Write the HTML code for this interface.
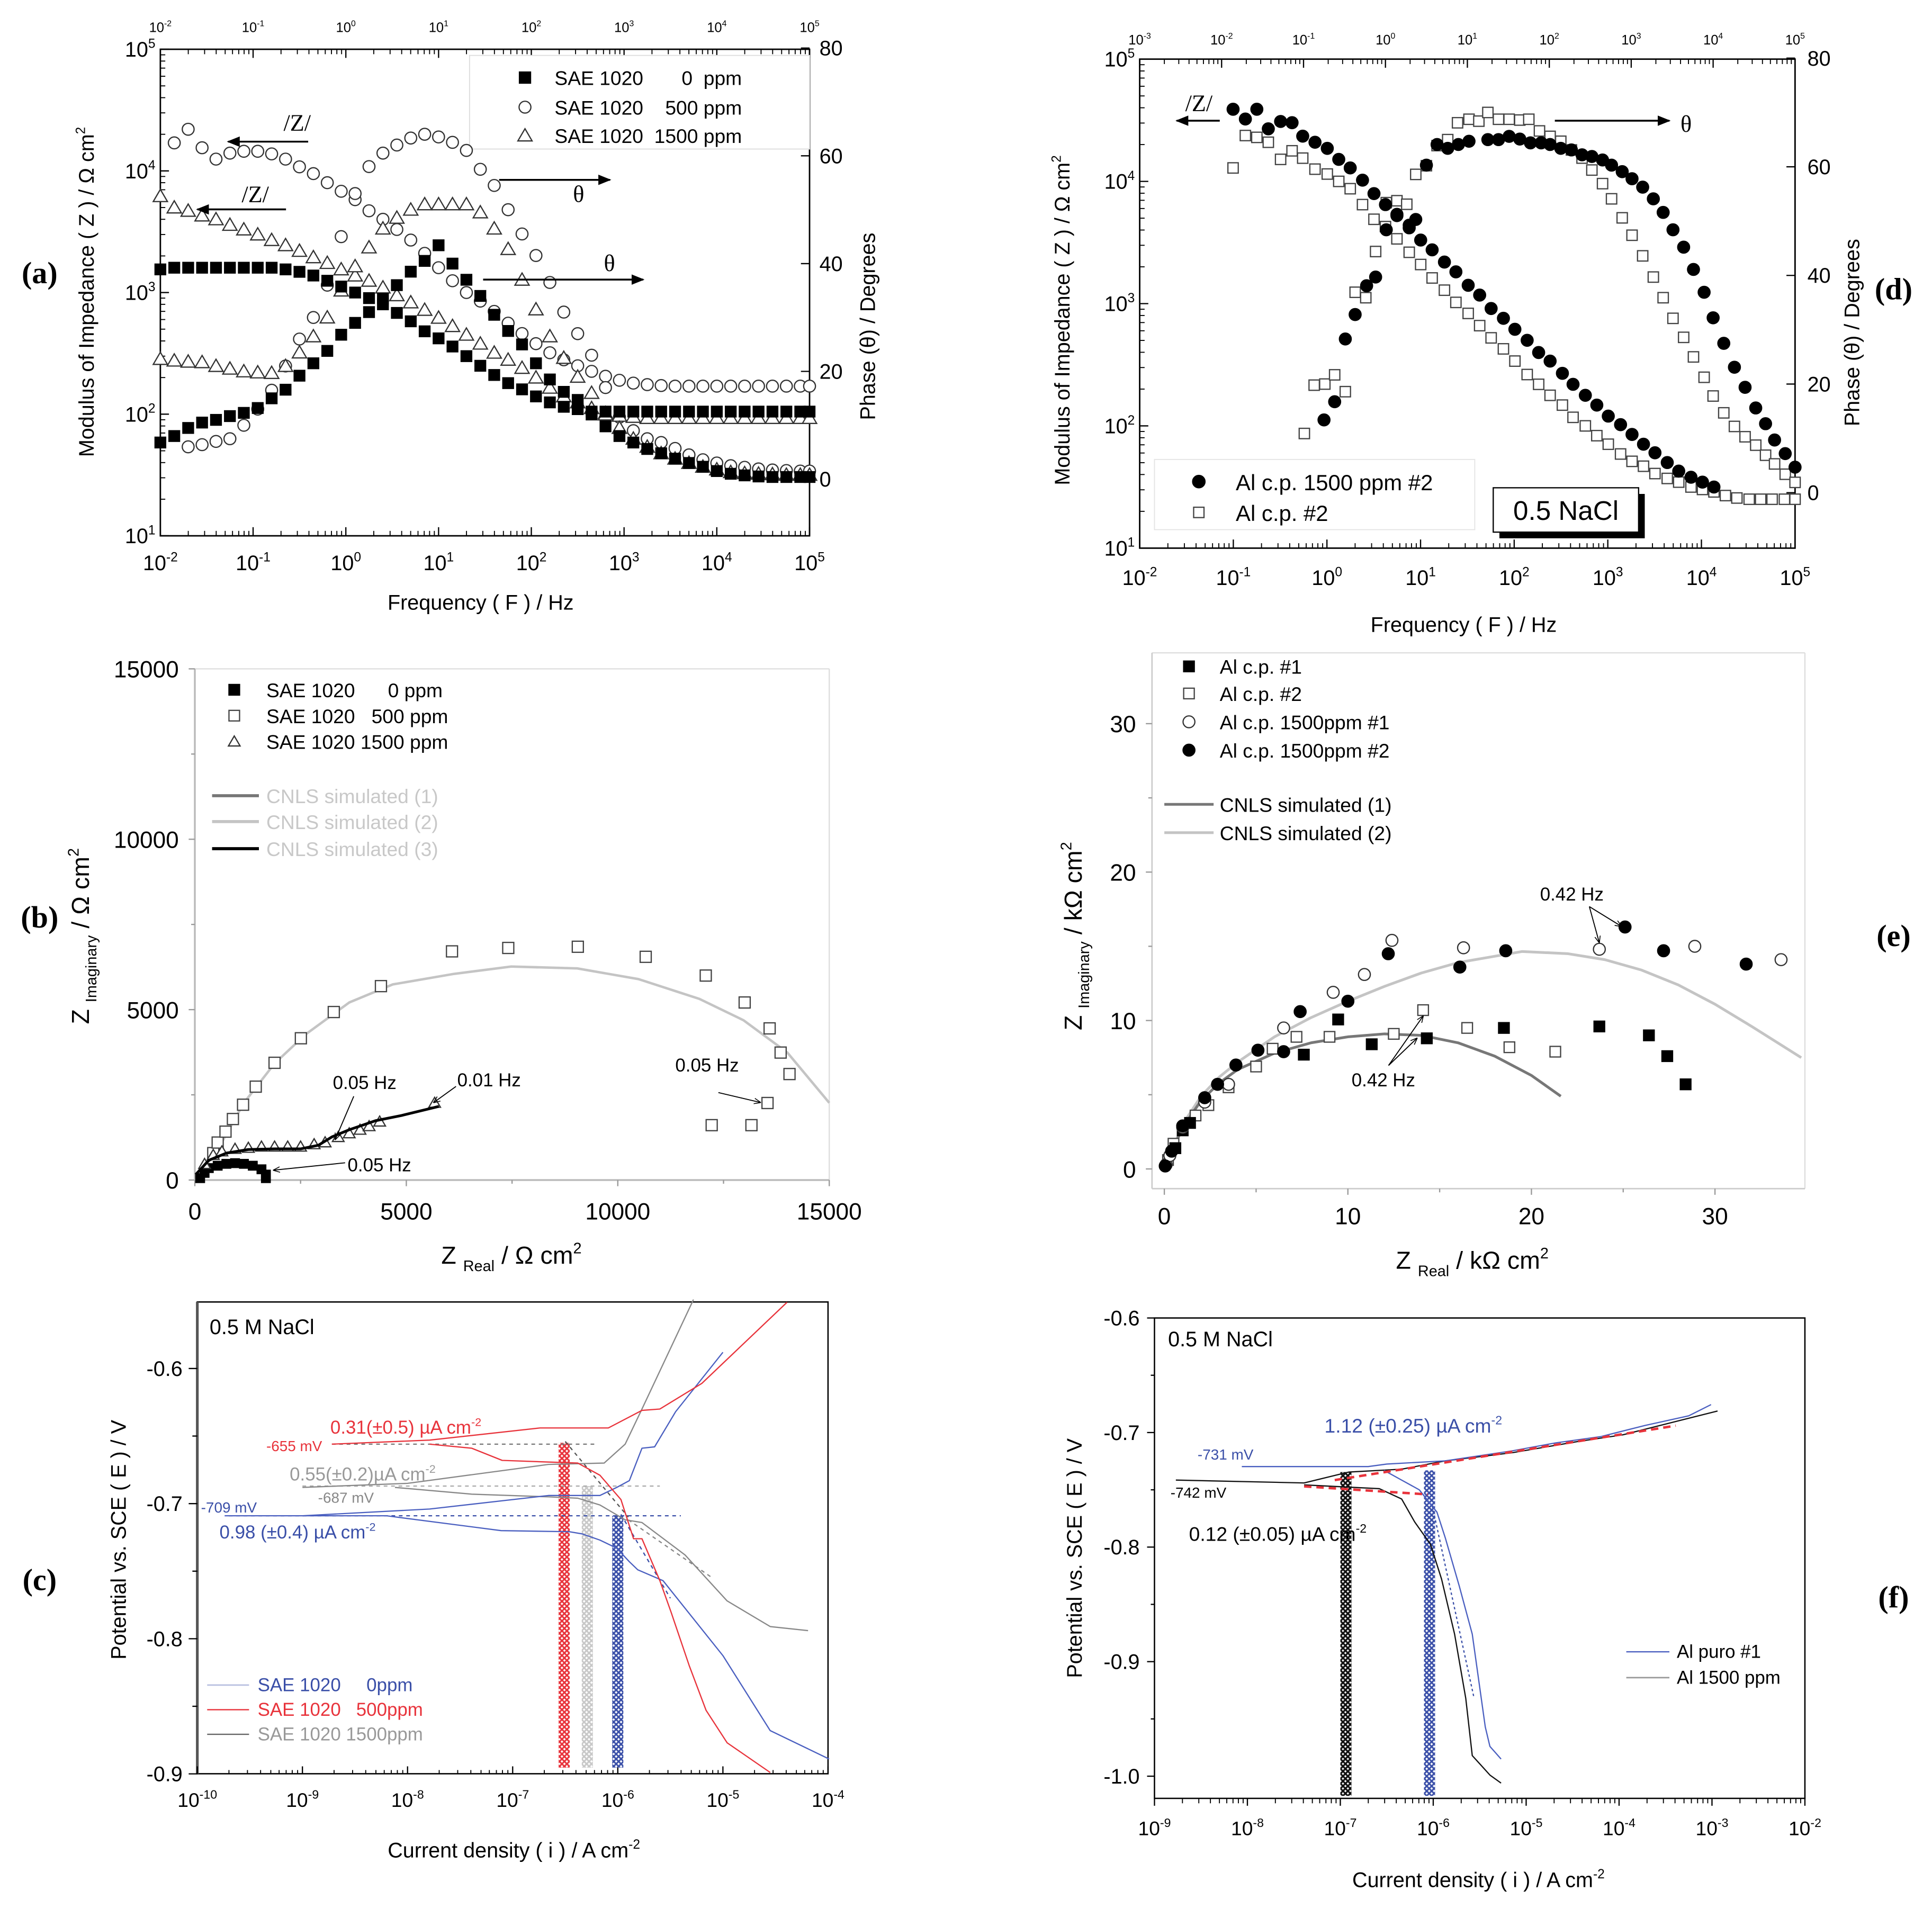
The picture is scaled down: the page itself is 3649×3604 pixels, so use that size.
<!DOCTYPE html>
<html><head><meta charset="utf-8">
<style>
html,body{margin:0;padding:0;background:#fff;}
svg{display:block;}
text{font-family:"Liberation Sans",sans-serif;white-space:pre;}
</style></head>
<body>
<svg id="fig" xmlns="http://www.w3.org/2000/svg" xml:space="preserve" width="3649" height="3604" viewBox="0 0 1568 1549">
<defs>
<pattern id="hatchRed" width="4" height="4" patternUnits="userSpaceOnUse"><rect width="4" height="4" fill="#fff"/><path d="M0,0L4,4M4,0L0,4" stroke="#e8333b" stroke-width="1.3"/></pattern>
<pattern id="hatchGray" width="4" height="4" patternUnits="userSpaceOnUse"><rect width="4" height="4" fill="#fff"/><path d="M0,0L4,4M4,0L0,4" stroke="#c8c8c8" stroke-width="1.3"/></pattern>
<pattern id="hatchBlue" width="4" height="4" patternUnits="userSpaceOnUse"><rect width="4" height="4" fill="#fff"/><path d="M0,0L4,4M4,0L0,4" stroke="#3a4fa8" stroke-width="1.3"/></pattern>
<pattern id="hatchBlack" width="4" height="4" patternUnits="userSpaceOnUse"><rect width="4" height="4" fill="#fff"/><path d="M0,0L4,4M4,0L0,4" stroke="#111" stroke-width="1.4"/></pattern>
<marker id="arr" viewBox="0 0 10 10" refX="9" refY="5" markerWidth="7" markerHeight="7" orient="auto"><path d="M0,1L10,5L0,9z" fill="#000"/></marker>
<marker id="arrO" viewBox="0 0 10 10" refX="9" refY="5" markerWidth="7" markerHeight="7" orient="auto"><path d="M0,1L10,5L0,9" fill="none" stroke="#000" stroke-width="1.2"/></marker>
</defs>
</svg>
<script>
// ---------- Panel (a) data ----------
const aLogF=[-2,-1.85,-1.7,-1.55,-1.4,-1.25,-1.1,-0.95,-0.8,-0.65,-0.5,-0.35,-0.2,-0.05,0.1,0.25,0.4,0.55,0.7,0.85,1,1.15,1.3,1.45,1.6,1.75,1.9,2.05,2.2,2.35,2.5,2.65,2.8,2.95,3.1,3.25,3.4,3.55,3.7,3.85,4,4.15,4.3,4.45,4.6,4.75,4.9,5];
const aZ0=[1550,1600,1600,1600,1600,1600,1600,1600,1600,1550,1480,1380,1250,1120,1000,900,800,680,580,480,420,360,300,250,210,180,160,140,125,115,110,105,105,105,105,105,105,105,105,105,105,105,105,105,105,105,105,105];
const aP0=[6.8,8,9.5,10.5,11,11.7,12.3,13.2,15,16.6,19.2,21.5,23.8,26.8,29,31,33.5,36,38.5,40.5,43.4,40,37,34,30.5,27.5,25,21.5,18.5,16.2,14.7,12,9.8,8,6.8,5.6,4.8,3.8,3,2.3,1.5,1,0.7,0.5,0.4,0.4,0.4,0.4];
const aLogF500=[-1.85,-1.7,-1.55,-1.4,-1.25,-1.1,-0.95,-0.8,-0.65,-0.5,-0.35,-0.2,-0.05,0.1,0.25,0.4,0.55,0.7,0.85,1,1.15,1.3,1.45,1.6,1.75,1.9,2.05,2.2,2.35,2.5,2.65,2.8,2.95,3.1,3.25,3.4,3.55,3.7,3.85,4,4.15,4.3,4.45,4.6,4.75,4.9,5];
const aZ500=[17000,22000,15500,12500,14000,14500,14500,13800,12500,10800,9500,8000,6800,5800,4700,4000,3300,2700,2100,1600,1250,1000,850,700,560,460,380,320,280,250,225,205,190,180,175,172,170,170,170,170,170,170,170,170,170,170,170];
const aLogFP500=[-1.7,-1.55,-1.4,-1.25,-1.1,-0.95,-0.8,-0.65,-0.5,-0.35,-0.2,-0.05,0.1,0.25,0.4,0.55,0.7,0.85,1,1.15,1.3,1.45,1.6,1.75,1.9,2.05,2.2,2.35,2.5,2.65,2.8,2.95,3.1,3.25,3.4,3.55,3.7,3.85,4,4.15,4.3,4.45,4.6,4.75,4.9,5];
const aP500=[6,6.4,7,7.5,10,13,16.5,21,26,30,36,45,53,58,60.5,62,63.3,64,63.5,62.5,61,57.5,54.5,50,45.5,41.5,36.5,31,27,23,17,11.5,9,7.5,6.8,5.7,4.5,3.6,3,2.5,2.2,1.9,1.7,1.6,1.5,1.5];
const aZ1500=[6200,5000,4700,4300,4000,3600,3300,3000,2700,2450,2200,1950,1750,1550,1380,1250,1100,950,830,720,620,530,450,380,320,280,240,200,165,140,125,112,102,97,95,93,93,93,93,93,93,93,93,93,93,93,93,93];
const aP1500=[22.3,22,21.8,21.7,21,20.5,20,19.8,19.7,21,23.5,26.5,30,35,39.5,43,46.5,48.5,50,51,51,51,51,49.5,46.5,42.7,37,31.5,26.5,22.5,19,16,12,9.5,7.5,6,4.8,3.8,3,2.3,1.8,1.3,1.1,1,0.9,0.8,0.8,0.8];
const aFreqTicks=[-2,-1,0,1,2,3,4,5];
const aZTicks=[1,2,3,4,5];
const aPhaseTicks=[0,20,40,60,80];

// ---------- Panel (d) data ----------
const dLogF=[-1.86,-1.71,-1.57,-1.43,-1.28,-1.14,-1.01,-0.86,-0.71,-0.57,-0.43,-0.28,-0.14,0,0.14,0.29,0.43,0.57,0.72,0.86,1.01,1.15,1.29,1.44,1.58,1.73,1.87,2.01,2.16,2.29,2.44,2.58,2.72,2.87,3.01,3.15,3.29,3.44,3.58,3.73,3.87,4.01,4.15,4.29,4.44,4.58,4.72,4.87,5.0];
const dZ1500Log=[4.59,4.51,4.59,4.43,4.49,4.48,4.37,4.32,4.27,4.18,4.11,4.01,3.90,3.81,3.72,3.62,3.52,3.44,3.34,3.26,3.15,3.07,2.96,2.88,2.79,2.70,2.60,2.53,2.43,2.34,2.25,2.17,2.08,2.01,1.93,1.85,1.78,1.70,1.63,1.58,1.54,1.50];
const dZcpLog=[4.11,4.375,4.36,4.32,4.18,4.25,4.19,4.10,4.06,4.0,3.94,3.81,3.69,3.63,3.53,3.42,3.32,3.21,3.11,3.01,2.92,2.82,2.72,2.63,2.53,2.42,2.34,2.25,2.17,2.07,2.0,1.92,1.85,1.77,1.71,1.67,1.61,1.57,1.54,1.50,1.48,1.46,1.43,1.41,1.40,1.40,1.40,1.40,1.40];
const dLogFP1500=[-0.75,-0.62,-0.49,-0.37,-0.23,-0.12,0.01,0.14,0.29,0.37,0.5,0.63,0.76,0.89,1.02,1.25,1.38,1.51,1.64,1.77,1.9,2.01,2.14,2.27,2.4,2.52,2.65,2.76,2.89,3.01,3.14,3.27,3.39,3.51,3.64,3.76,3.89,4.0,4.13,4.26,4.39,4.52,4.64,4.75,4.88,5.0];
const dP1500=[13.4,16.75,28.3,32.8,38.1,39.7,48.4,51.25,49.25,50.3,60.3,64.1,63.4,64.1,64.7,65,65,65.6,65.1,64.4,64.4,64.1,63.4,63.1,62.2,61.9,61.25,60.3,59.1,57.8,56.25,54.1,51.6,48.4,45.2,41.1,36.9,32.2,27.5,23.1,19.4,15.6,12.7,9.7,7.2,4.7];
const dLogFPcp=[-0.99,-0.87,-0.74,-0.62,-0.49,-0.37,-0.24,-0.12,0.01,0.14,0.26,0.37,0.5,0.63,0.76,0.88,1.02,1.14,1.25,1.38,1.51,1.64,1.75,1.88,2.01,2.14,2.27,2.4,2.52,2.65,2.76,2.89,3.01,3.14,3.27,3.39,3.51,3.64,3.76,3.89,4.0,4.13,4.26,4.39,4.52,4.64,4.75,4.88,5.0];
const dPcp=[10.9,19.8,20,21.7,18.6,36.9,35.9,44.4,53.4,53.75,53.1,58.6,60.2,63.9,65,68.1,68.75,68.4,70,68.75,68.75,68.6,68.75,66.6,65.6,64.7,63.1,61.6,59.4,56.9,54.1,50.6,47.4,43.6,39.7,35.9,32.1,28.6,25,21.25,17.8,14.7,12.2,10.3,8.75,6.9,5.3,3.4,1.9];
const dTopTicks=[-3,-2,-1,0,1,2,3,4,5];
const dBotTicks=[-2,-1,0,1,2,3,4,5];

// ---------- Panel (b) data ----------
const b500Re=[435,540,725,900,1140,1440,1885,2507,3285,4400,6080,7410,9055,10660,12080,13000,13590,13850,14060,13540,13160,12220];
const b500Im=[790,1100,1420,1790,2210,2740,3440,4160,4930,5690,6710,6810,6845,6550,6000,5210,4450,3740,3110,2260,1610,1610];
const b1500Re=[230,435,640,950,1265,1575,1885,2195,2500,2820,3080,3390,3650,3905,4120,4370,5670];
const b1500Im=[470,735,840,915,945,980,980,980,980,1050,1105,1260,1370,1475,1580,1715,2265];
const b0Re=[125,230,330,540,745,950,1160,1370,1575,1680,1680];
const b0Im=[55,210,350,420,475,495,475,420,315,160,55];
const bSim2Re=[0,540,1160,1885,2610,3650,4680,6130,7480,9040,10490,11930,12970,14010,15000];
const bSim2Im=[0,895,2265,3420,4265,5210,5740,6050,6265,6210,5895,5315,4690,3740,2265];
const bSim3Re=[20,330,745,1265,1885,2507,2920,3240,3650,4270,4890,5770];
const bSim3Im=[160,580,790,895,915,915,1020,1265,1475,1740,1895,2160];
const bTicks=[0,5000,10000,15000];

// ---------- Panel (e) data ----------
const eCp1Re=[0.6,1,1.4,7.6,9.47,11.3,14.3,18.5,23.7,26.4,27.4,28.4];
const eCp1Im=[1.4,2.6,3.1,7.7,10.07,8.4,8.8,9.5,9.6,9.0,7.6,5.7];
const eCp2Re=[0.2,0.5,1.7,2.4,3.5,5.0,5.9,7.2,9.0,12.5,14.1,16.5,18.8,21.3];
const eCp2Im=[0.6,1.7,3.6,4.3,5.5,6.9,8.1,8.9,8.9,9.1,10.7,9.5,8.2,7.9];
const eAl1Re=[0.1,0.3,1,2.2,3.5,6.5,9.2,10.9,12.4,16.3,23.7,28.9,33.6];
const eAl1Im=[0.3,0.9,2.8,4.5,5.7,9.5,11.9,13.1,15.4,14.9,14.8,15.0,14.1];
const eAl2Re=[0.05,0.4,1,2.2,2.9,3.9,5.1,6.5,7.4,10.0,12.2,16.1,18.6,25.1,27.2,31.7];
const eAl2Im=[0.2,1.2,2.9,4.8,5.7,7.0,8.0,7.9,10.6,11.3,14.5,13.6,14.7,16.3,14.7,13.8];
const eSim1Re=[0,1,2,3,4,6,8,10,12,14,16,18,20,21.6];
const eSim1Im=[0,2.8,4.6,5.8,6.7,7.8,8.5,8.9,9.1,9.0,8.5,7.6,6.3,4.9];
const eSim2Re=[0,1,2,3,4,6,8,10,12,14,16,19.5,22,24,26,28,30,32,34.7];
const eSim2Im=[0,3,4.9,6.2,7.2,8.9,10.2,11.3,12.3,13.2,13.9,14.65,14.5,14.1,13.4,12.4,11.1,9.6,7.5];
const eTicks=[0,10,20,30];

// ---------- Panel (c) data (log10 i, E/V) ----------
const cBlueCathLogI=[-9.74,-8.2,-7.11,-6.46,-6.34,-6.17,-6.01,-5.89,-5.81,-5.57,-5.0,-4.55,-3.99];
const cBlueCathE=[-0.709,-0.709,-0.72,-0.7208,-0.7224,-0.727,-0.733,-0.743,-0.749,-0.757,-0.8125,-0.868,-0.889];
const cBlueAnLogI=[-9.0,-7.79,-6.66,-6.17,-6.01,-5.89,-5.77,-5.65,-5.45,-5.0];
const cBlueAnE=[-0.709,-0.704,-0.694,-0.694,-0.688,-0.683,-0.659,-0.658,-0.632,-0.588];
const cRedAnLogI=[-8.72,-7.79,-6.74,-6.09,-5.77,-5.6,-5.2,-4.39];
const cRedAnE=[-0.656,-0.653,-0.644,-0.644,-0.631,-0.63,-0.611,-0.551];
const cRedCathLogI=[-7.79,-7.39,-7.1,-6.38,-6.17,-5.97,-5.85,-5.77,-5.6,-5.49,-5.32,-5.16,-4.96,-4.55];
const cRedCathE=[-0.656,-0.659,-0.668,-0.67,-0.679,-0.697,-0.726,-0.726,-0.757,-0.781,-0.82,-0.853,-0.877,-0.899];
const cGrayAnLogI=[-9.0,-8.0,-6.66,-6.13,-5.93,-5.77,-5.28];
const cGrayAnE=[-0.688,-0.685,-0.671,-0.67,-0.656,-0.63,-0.549];
const cGrayCathLogI=[-8.12,-7.39,-6.66,-6.38,-6.17,-5.93,-5.77,-5.36,-4.96,-4.55,-4.19];
const cGrayCathE=[-0.688,-0.693,-0.695,-0.696,-0.701,-0.712,-0.714,-0.738,-0.772,-0.791,-0.794];
const cIcorrLogI=[-6.51,-6.29,-6.0];
const cEcorr=[-0.655,-0.687,-0.709];
const cXTicks=[-10,-9,-8,-7,-6,-5,-4];
const cYTicks=[-0.6,-0.7,-0.8,-0.9];

// ---------- Panel (f) data ----------
const fBlueAnLogI=[-8.06,-6.7,-6.5,-5.87,-5.15,-4.68,-4.2,-3.72,-3.25,-3.01];
const fBlueAnE=[-0.7297,-0.7297,-0.7275,-0.7247,-0.716,-0.709,-0.7036,-0.6938,-0.6854,-0.6756];
const fBlueCathLogI=[-6.53,-6.34,-6.15,-5.96,-5.87,-5.72,-5.58,-5.44,-5.39,-5.27];
const fBlueCathE=[-0.733,-0.7415,-0.75,-0.7695,-0.792,-0.834,-0.876,-0.957,-0.974,-0.985];
const fBlackAnLogI=[-8.77,-7.39,-6.91,-6.34,-5.87,-5.15,-4.44,-3.96,-3.49,-2.94];
const fBlackAnE=[-0.7415,-0.744,-0.7345,-0.732,-0.7247,-0.7176,-0.7078,-0.702,-0.6924,-0.6812];
const fBlackCathLogI=[-7.39,-6.58,-6.34,-6.2,-6.03,-5.91,-5.77,-5.65,-5.58,-5.39,-5.27];
const fBlackCathE=[-0.7457,-0.749,-0.758,-0.778,-0.7975,-0.828,-0.876,-0.932,-0.982,-0.999,-1.006];
const fIcorrLogI=[-6.94,-6.04];
const fEcorr=[-0.7345,-0.733];
const fXTicks=[-9,-8,-7,-6,-5,-4,-3,-2];
const fYTicks=[-0.6,-0.7,-0.8,-0.9,-1.0];

// ---------- helpers ----------
const NS='http://www.w3.org/2000/svg';
const svg=document.getElementById('fig');
function el(tag,attrs,parent){const e=document.createElementNS(NS,tag);for(const k in attrs)e.setAttribute(k,attrs[k]);(parent||svg).appendChild(e);return e;}
function nm(e,name){


return e;}
function grp(name){const g=el('g',{});


return g;}
function T(parent,x,y,parts,o,name){o=o||{};const fs=o.fs||16;
const t=el('text',{x:x,y:y,'font-size':fs,'text-anchor':o.a||'start',fill:o.c||'#000'},parent);
if(o.rot)t.setAttribute('transform','rotate('+o.rot+' '+x+' '+y+')');
if(o.ff)t.setAttribute('style','font-family:'+o.ff);
if(o.fw)t.setAttribute('font-weight',o.fw);
if(typeof parts==='string')parts=[[parts]];
let shift=0;
parts.forEach(p=>{const ts=el('tspan',{},t);let d=0;
 if(p[1]==='sup'){d=-0.42*fs;ts.setAttribute('font-size',fs*0.62);}
 else if(p[1]==='sub'){d=0.3*fs;ts.setAttribute('font-size',fs*0.62);}
 const dy=d-shift;if(dy)ts.setAttribute('dy',dy);shift=d;ts.textContent=p[0];});


return t;}
function line(parent,x1,y1,x2,y2,st,name){const l=el('line',{x1:x1,y1:y1,x2:x2,y2:y2,stroke:st.c||'#000','stroke-width':st.w||1},parent);
if(st.d)l.setAttribute('stroke-dasharray',st.d);if(st.m)l.setAttribute('marker-end',st.m);


return l;}
function poly(parent,xs,ys,sx,sy,st,name){const n=Math.min(xs.length,ys.length);let d='';
for(let i=0;i<n;i++)d+=(i?'L':'M')+sx(xs[i]).toFixed(2)+','+sy(ys[i]).toFixed(2);
const p=el('path',{d:d,fill:'none',stroke:st.c,'stroke-width':st.w||1,'stroke-linejoin':'round'},parent);
if(st.d)p.setAttribute('stroke-dasharray',st.d);


return p;}
function marker(parent,type,x,y,s,name){let e;
if(type==='fsq'||type==='osq'){e=el('rect',{x:x-s,y:y-s,width:2*s,height:2*s,fill:type==='fsq'?'#000':'#fff',stroke:type==='fsq'?'#000':'#444','stroke-width':1},parent);}
else if(type==='fc'||type==='oc'){e=el('circle',{cx:x,cy:y,r:s,fill:type==='fc'?'#000':'#fff',stroke:type==='fc'?'#000':'#333','stroke-width':1},parent);}
else {e=el('path',{d:'M'+x+','+(y-s)+'L'+(x+s*1.05)+','+(y+s*0.8)+'L'+(x-s*1.05)+','+(y+s*0.8)+'Z',fill:'#fff',stroke:'#333','stroke-width':1},parent);}


return e;}
function scatter(parent,xs,ys,sx,sy,type,s,name){const g=el('g',{},parent);


const n=Math.min(xs.length,ys.length);for(let i=0;i<n;i++)marker(g,type,sx(xs[i]),sy(ys[i]),s,name+'-point');return g;}
function pw(e){return [['10'],[String(e),'sup']];}
function logMinorX(parent,sx,e0,e1,yb,len){for(let e=e0;e<e1;e++)for(let m=2;m<10;m++){const x=sx(e+Math.log10(m));line(parent,x,yb,x,yb+len,{w:0.8},'minor-tick');}}
function logMinorY(parent,sy,e0,e1,xb,len){for(let e=e0;e<e1;e++)for(let m=2;m<10;m++){const y=sy(e+Math.log10(m));line(parent,xb,y,xb+len,y,{w:0.8},'minor-tick');}}
function panelLabel(x,y,s,name){T(svg,x,y,s,{fs:25,ff:'"Liberation Serif",serif',fw:'bold',a:'middle'},name);}

// ================= Panel (a) =================
(function(){
const g=grp('panel-a-bode-sae1020');
const X0=130,X1=657,Y0=40,Y1=435;
const ax=e=>X0+(e+2)*(X1-X0)/7;
const ayZ=l=>Y1-(l-1)*(Y1-Y0)/4;
const ayP=p=>389-p*4.375;
const lz=v=>Math.log10(v);
nm(el('rect',{x:X0,y:Y0,width:X1-X0,height:Y1-Y0,fill:'none',stroke:'#000','stroke-width':1.2},g),'plot-frame');
aFreqTicks.forEach(e=>{const x=ax(e);line(g,x,Y1,x,Y1-7,{},'x-tick');line(g,x,Y0,x,Y0+7,{},'top-x-tick');
 T(g,x,Y1+28,pw(e),{fs:17,a:'middle'},'x-tick-label');T(g,x,Y0-14,pw(e),{fs:11,a:'middle'},'top-x-tick-label');});
logMinorX(g,ax,-2,5,Y1,-4);logMinorX(g,ax,-2,5,Y0,4);
aZTicks.forEach(l=>{const y=ayZ(l);line(g,X0,y,X0+7,y,{},'y-tick');T(g,X0-4,y+6,pw(l),{fs:17,a:'end'},'y-tick-label');});
logMinorY(g,ayZ,1,5,X0,4);
aPhaseTicks.forEach(p=>{const y=ayP(p);line(g,X1,y,X1-7,y,{},'right-y-tick');T(g,X1+8,y+6,String(p),{fs:17},'right-y-tick-label');});
T(g,76,237,[['Modulus of Impedance ( Z ) / \u03a9 cm'],['2','sup']],{fs:17,a:'middle',rot:-90},'y-axis-title');
T(g,710,265,'Phase (\u03b8) / Degrees',{fs:17,a:'middle',rot:-90},'right-y-axis-title');
T(g,390,495,'Frequency ( F ) / Hz',{fs:17,a:'middle'},'x-axis-title');
// legend
const lg=el('g',{},g);
nm(el('rect',{x:381,y:45,width:276,height:76,fill:'#fff',stroke:'#ddd','stroke-width':0.8},lg),'legend-box');
marker(lg,'fsq',426,63,4.5,'legend-marker-0ppm');marker(lg,'oc',426,87,4.8,'legend-marker-500ppm');marker(lg,'tri',426,110,5.5,'legend-marker-1500ppm');
T(lg,450,69,'SAE 1020       0  ppm',{fs:16},'legend-entry-0ppm');
T(lg,450,93,'SAE 1020    500 ppm',{fs:16},'legend-entry-500ppm');
T(lg,450,116,'SAE 1020  1500 ppm',{fs:16},'legend-entry-1500ppm');
// data
scatter(g,aLogF500,aZ500.map(lz),ax,ayZ,'oc',4.8,'modulus-500ppm');
scatter(g,aLogFP500,aP500,ax,ayP,'oc',4.8,'phase-500ppm');
scatter(g,aLogF,aZ1500.map(lz),ax,ayZ,'tri',5.5,'modulus-1500ppm');
scatter(g,aLogF,aP1500,ax,ayP,'tri',5.5,'phase-1500ppm');
scatter(g,aLogF,aZ0.map(lz),ax,ayZ,'fsq',4.3,'modulus-0ppm');
scatter(g,aLogF,aP0,ax,ayP,'fsq',4.3,'phase-0ppm');
// annotations
T(g,230,106,'/Z/',{fs:19,ff:'"Liberation Serif",serif'},'modulus-annotation-1');
line(g,250,115,185,115,{w:1.5,m:'url(#arr)'},'modulus-arrow-1');
T(g,196,164,'/Z/',{fs:19,ff:'"Liberation Serif",serif'},'modulus-annotation-2');
line(g,232,170,160,170,{w:1.5,m:'url(#arr)'},'modulus-arrow-2');
line(g,405,146,495,146,{w:1.5,m:'url(#arr)'},'phase-arrow-1');
T(g,465,164,'\u03b8',{fs:19,ff:'"Liberation Serif",serif'},'phase-annotation-1');
line(g,392,227,522,227,{w:1.5,m:'url(#arr)'},'phase-arrow-2');
T(g,490,220,'\u03b8',{fs:19,ff:'"Liberation Serif",serif'},'phase-annotation-2');
})();
panelLabel(32,230,'(a)','panel-label-a');

// ================= Panel (d) =================
(function(){
const g=grp('panel-d-bode-al');
const X0=925,X1=1457,Y0=48,Y1=445;
const dTop=e=>X0+(e+3)*(X1-X0)/8;
const dBot=e=>X0+(e+2)*(X1-X0)/7;
const dyZ=l=>Y1-(l-1)*(Y1-Y0)/4;
const dyP=p=>400-p*4.41;
nm(el('rect',{x:X0,y:Y0,width:X1-X0,height:Y1-Y0,fill:'none',stroke:'#000','stroke-width':1.2},g),'plot-frame');
dBotTicks.forEach(e=>{const x=dBot(e);line(g,x,Y1,x,Y1-7,{},'x-tick');T(g,x,Y1+30,pw(e),{fs:17,a:'middle'},'x-tick-label');});
logMinorX(g,dBot,-2,5,Y1,-4);
dTopTicks.forEach(e=>{const x=dTop(e);line(g,x,Y0,x,Y0+7,{},'top-x-tick');T(g,x,Y0-12,pw(e),{fs:11,a:'middle'},'top-x-tick-label');});
logMinorX(g,dTop,-3,5,Y0,4);
[1,2,3,4,5].forEach(l=>{const y=dyZ(l);line(g,X0,y,X0+7,y,{},'y-tick');T(g,X0-4,y+6,pw(l),{fs:17,a:'end'},'y-tick-label');});
logMinorY(g,dyZ,1,5,X0,4);
[0,20,40,60,80].forEach(p=>{const y=dyP(p);line(g,X1,y,X1-7,y,{},'right-y-tick');T(g,X1+10,y+6,String(p),{fs:17},'right-y-tick-label');});
T(g,868,260,[['Modulus of Impedance ( Z ) / \u03a9 cm'],['2','sup']],{fs:17,a:'middle',rot:-90},'y-axis-title');
T(g,1509,270,'Phase (\u03b8) / Degrees',{fs:17,a:'middle',rot:-90},'right-y-axis-title');
T(g,1188,513,'Frequency ( F ) / Hz',{fs:17,a:'middle'},'x-axis-title');
scatter(g,dLogF,dZcpLog,dTop,dyZ,'osq',4.2,'modulus-al-cp2');
scatter(g,dLogFPcp,dPcp,dTop,dyP,'osq',4.2,'phase-al-cp2');
scatter(g,dLogF,dZ1500Log,dTop,dyZ,'fc',4.8,'modulus-al-1500ppm');
scatter(g,dLogFP1500,dP1500,dTop,dyP,'fc',4.8,'phase-al-1500ppm');
const lg=el('g',{},g);
nm(el('rect',{x:937,y:373,width:260,height:57,fill:'#fff',stroke:'#e4e4e4','stroke-width':0.8},lg),'legend-box');
marker(lg,'fc',973,391,5,'legend-marker-1500ppm');marker(lg,'osq',973,416,4.2,'legend-marker-cp2');
T(lg,1003,398,'Al c.p. 1500 ppm #2',{fs:18},'legend-entry-1500ppm');
T(lg,1003,423,'Al c.p. #2',{fs:18},'legend-entry-cp2');
nm(el('rect',{x:1217,y:401,width:118,height:36,fill:'#000'},g),'nacl-box-shadow');
nm(el('rect',{x:1212,y:396,width:118,height:36,fill:'#fff',stroke:'#000','stroke-width':1},g),'nacl-box');
T(g,1271,422,'0.5 NaCl',{fs:22,a:'middle'},'nacl-label');
T(g,962,90,'/Z/',{fs:19,ff:'"Liberation Serif",serif'},'modulus-annotation');
line(g,990,98,955,98,{w:1.5,m:'url(#arr)'},'modulus-arrow');
line(g,1262,98,1355,98,{w:1.5,m:'url(#arr)'},'phase-arrow');
T(g,1364,107,'\u03b8',{fs:19,ff:'"Liberation Serif",serif'},'phase-annotation');
})();
panelLabel(1537,243,'(d)','panel-label-d');

// ================= Panel (b) =================
(function(){
const g=grp('panel-b-nyquist-sae1020');
const X0=158,X1=673,Y0=543,Y1=958;
const bx=v=>X0+v*(X1-X0)/15000;
const by=v=>Y1-v*(Y1-Y0)/15000;
line(g,X0,Y0,X1,Y0,{c:'#ddd'},'frame-top');line(g,X1,Y0,X1,Y1,{c:'#ddd'},'frame-right');
line(g,X0,Y0,X0,Y1,{c:'#bbb',w:1.5},'y-axis-line');line(g,X0,Y1,X1,Y1,{c:'#bbb',w:1.5},'x-axis-line');
bTicks.forEach(v=>{const x=bx(v),y=by(v);line(g,x,Y1,x,Y1+5,{c:'#999'},'x-tick');line(g,X0-5,y,X0,y,{c:'#999'},'y-tick');
 T(g,x,Y1+32,String(v),{fs:19,a:'middle'},'x-tick-label');T(g,X0-13,y+7,String(v),{fs:19,a:'end'},'y-tick-label');});
[2500,7500,12500].forEach(v=>{line(g,bx(v),Y1,bx(v),Y1+3,{c:'#999'},'x-minor-tick');line(g,X0-3,by(v),X0,by(v),{c:'#999'},'y-minor-tick');});
T(g,72,760,[['Z '],['Imaginary','sub'],[' / \u03a9 cm'],['2','sup']],{fs:20,a:'middle',rot:-90},'y-axis-title');
T(g,415,1026,[['Z '],['Real','sub'],[' / \u03a9 cm'],['2','sup']],{fs:20,a:'middle'},'x-axis-title');
poly(g,bSim2Re,bSim2Im,bx,by,{c:'#c4c4c4',w:2},'cnls-simulated-2');
poly(g,b0Re,b0Im,bx,by,{c:'#777',w:2},'cnls-simulated-1');
scatter(g,b0Re,b0Im,bx,by,'fsq',3.5,'nyquist-0ppm');
scatter(g,b500Re,b500Im,bx,by,'osq',4.5,'nyquist-500ppm');
scatter(g,b1500Re,b1500Im,bx,by,'tri',4.5,'nyquist-1500ppm');
poly(g,bSim3Re,bSim3Im,bx,by,{c:'#000',w:2.2},'cnls-simulated-3');
const lg=el('g',{},g);
marker(lg,'fsq',190,560,4.3,'legend-marker-0ppm');marker(lg,'osq',190,581,4.3,'legend-marker-500ppm');marker(lg,'tri',190,602,4.5,'legend-marker-1500ppm');
T(lg,216,566,'SAE 1020      0 ppm',{fs:16},'legend-entry-0ppm');
T(lg,216,587,'SAE 1020   500 ppm',{fs:16},'legend-entry-500ppm');
T(lg,216,608,'SAE 1020 1500 ppm',{fs:16},'legend-entry-1500ppm');
line(lg,172,646,210,646,{c:'#777',w:2.5},'legend-line-sim1');line(lg,172,667,210,667,{c:'#c4c4c4',w:2.5},'legend-line-sim2');line(lg,172,689,210,689,{c:'#000',w:2.5},'legend-line-sim3');
T(lg,216,652,'CNLS simulated (1)',{fs:16,c:'#c8c8c8'},'legend-entry-sim1');
T(lg,216,673,'CNLS simulated (2)',{fs:16,c:'#c8c8c8'},'legend-entry-sim2');
T(lg,216,695,'CNLS simulated (3)',{fs:16,c:'#c8c8c8'},'legend-entry-sim3');
T(g,270,884,'0.05 Hz',{fs:15},'annotation-005hz-1');line(g,287,890,272,925,{w:0.8,m:'url(#arrO)'},'annotation-arrow-1');
T(g,371,882,'0.01 Hz',{fs:15},'annotation-001hz');line(g,370,882,352,895,{w:0.8,m:'url(#arrO)'},'annotation-arrow-2');
T(g,282,951,'0.05 Hz',{fs:15},'annotation-005hz-2');line(g,280,944,222,950,{w:0.8,m:'url(#arrO)'},'annotation-arrow-3');
T(g,548,870,'0.05 Hz',{fs:15},'annotation-005hz-3');line(g,583,887,617,895,{w:0.8,m:'url(#arrO)'},'annotation-arrow-4');
})();
panelLabel(32,753,'(b)','panel-label-b');

// ================= Panel (e) =================
(function(){
const g=grp('panel-e-nyquist-al');
const X0=935,X1=1465,Y0=530,Y1=965;
const ex=v=>945+v*14.9;
const ey=v=>949-v*12.05;
line(g,X0,Y0,X1,Y0,{c:'#ddd'},'frame-top');line(g,X1,Y0,X1,Y1,{c:'#ddd'},'frame-right');
line(g,X0,Y0,X0,Y1,{c:'#ccc',w:1.2},'y-axis-line');line(g,X0,Y1,X1,Y1,{c:'#ccc',w:1.2},'x-axis-line');
eTicks.forEach(v=>{line(g,ex(v),Y1,ex(v),Y1+5,{c:'#999'},'x-tick');line(g,X0,ey(v),X0-5,ey(v),{c:'#999'},'y-tick');
 T(g,ex(v),Y1+29,String(v),{fs:19,a:'middle'},'x-tick-label');T(g,X0-13,ey(v)+7,String(v),{fs:19,a:'end'},'y-tick-label');});
[5,15,25].forEach(v=>{line(g,ex(v),Y1,ex(v),Y1+3,{c:'#999'},'x-minor-tick');line(g,X0,ey(v),X0-3,ey(v),{c:'#999'},'y-minor-tick');});
T(g,878,760,[['Z '],['Imaginary','sub'],[' / k\u03a9 cm'],['2','sup']],{fs:20,a:'middle',rot:-90},'y-axis-title');
T(g,1195,1030,[['Z '],['Real','sub'],[' / k\u03a9 cm'],['2','sup']],{fs:20,a:'middle'},'x-axis-title');
poly(g,eSim2Re,eSim2Im,ex,ey,{c:'#c4c4c4',w:2.2},'cnls-simulated-2');
poly(g,eSim1Re,eSim1Im,ex,ey,{c:'#777',w:2.2},'cnls-simulated-1');
scatter(g,eCp2Re,eCp2Im,ex,ey,'osq',4.3,'nyquist-al-cp2');
scatter(g,eCp1Re,eCp1Im,ex,ey,'fsq',4.3,'nyquist-al-cp1');
scatter(g,eAl1Re,eAl1Im,ex,ey,'oc',4.8,'nyquist-al-1500ppm-1');
scatter(g,eAl2Re,eAl2Im,ex,ey,'fc',4.8,'nyquist-al-1500ppm-2');
const lg=el('g',{},g);
marker(lg,'fsq',965,541,4.3,'legend-marker-cp1');marker(lg,'osq',965,563,4.3,'legend-marker-cp2');marker(lg,'oc',965,586,4.8,'legend-marker-1500-1');marker(lg,'fc',965,609,4.8,'legend-marker-1500-2');
T(lg,990,547,'Al c.p. #1',{fs:16},'legend-entry-cp1');
T(lg,990,569,'Al c.p. #2',{fs:16},'legend-entry-cp2');
T(lg,990,592,'Al c.p. 1500ppm #1',{fs:16},'legend-entry-1500-1');
T(lg,990,615,'Al c.p. 1500ppm #2',{fs:16},'legend-entry-1500-2');
line(lg,945,653,985,653,{c:'#777',w:2.2},'legend-line-sim1');line(lg,945,676,985,676,{c:'#c4c4c4',w:2.2},'legend-line-sim2');
T(lg,990,659,'CNLS simulated (1)',{fs:16},'legend-entry-sim1');
T(lg,990,682,'CNLS simulated (2)',{fs:16},'legend-entry-sim2');
T(g,1250,731,'0.42 Hz',{fs:15},'annotation-042hz-1');
line(g,1290,736,1298,765,{w:0.8,m:'url(#arrO)'},'annotation-arrow-1');line(g,1290,736,1316,752,{w:0.8,m:'url(#arrO)'},'annotation-arrow-2');
T(g,1097,882,'0.42 Hz',{fs:15},'annotation-042hz-2');
line(g,1127,865,1155,825,{w:0.8,m:'url(#arrO)'},'annotation-arrow-3');line(g,1127,865,1150,843,{w:0.8,m:'url(#arrO)'},'annotation-arrow-4');
})();
panelLabel(1537,768,'(e)','panel-label-e');

// ================= Panel (c) =================
(function(){
const g=grp('panel-c-tafel-sae1020');
const X0=160,X1=672,Y0=1057,Y1=1440;
const cx=e=>X0+(e+10)*(X1-X0)/6;
const cy=E=>1111-(E+0.6)*1097;
nm(el('rect',{x:X0,y:Y0,width:X1-X0,height:Y1-Y0,fill:'none',stroke:'#000','stroke-width':1.1},g),'plot-frame');
line(g,X0,Y0,X0,Y1,{c:'#555',w:2.2},'y-axis-line');
cXTicks.forEach(e=>{const x=cx(e);line(g,x,Y1,x,Y1-6,{},'x-tick');T(g,x,Y1+27,pw(e),{fs:16,a:'middle'},'x-tick-label');});
logMinorX(g,cx,-10,-4,Y1,-3);
cYTicks.forEach(E=>{const y=cy(E);line(g,X0,y,X0-7,y,{},'y-tick');T(g,X0-12,y+6,E.toFixed(1),{fs:17,a:'end'},'y-tick-label');});
[-0.65,-0.75,-0.85].forEach(E=>line(g,X0,cy(E),X0-4,cy(E),{},'y-minor-tick'));
T(g,102,1250,'Potential vs. SCE ( E ) / V',{fs:17,a:'middle',rot:-90},'y-axis-title');
T(g,417,1508,[['Current density ( i ) / A cm'],['-2','sup']],{fs:17,a:'middle'},'x-axis-title');
T(g,170,1083,'0.5 M NaCl',{fs:17},'electrolyte-label');
const cols=['url(#hatchRed)','url(#hatchGray)','url(#hatchBlue)'];
cIcorrLogI.forEach((li,i)=>{const x=cx(li);const r=el('rect',{x:x-4.5,y:cy(cEcorr[i]),width:9,height:1435-cy(cEcorr[i]),fill:cols[i]},g);

});
line(g,cx(-8.72),cy(-0.656),cx(-6.2),cy(-0.656),{c:'#777',d:'3,3'},'ecorr-line-500ppm');
line(g,cx(-9),cy(-0.687),cx(-5.6),cy(-0.687),{c:'#aaa',d:'3,3'},'ecorr-line-1500ppm');
line(g,cx(-9.7),cy(-0.709),cx(-5.4),cy(-0.709),{c:'#3a4fa8',d:'3,3'},'ecorr-line-0ppm');
line(g,cx(-6.5),cy(-0.654),cx(-5.9),cy(-0.71),{c:'#555',d:'3,3'},'tafel-fit-500ppm');
line(g,cx(-5.97),cy(-0.708),cx(-5.5),cy(-0.77),{c:'#3a4fa8',d:'3,3'},'tafel-fit-0ppm');
line(g,cx(-5.9),cy(-0.712),cx(-5.1),cy(-0.755),{c:'#888',d:'3,3'},'tafel-fit-1500ppm');
poly(g,cGrayAnLogI,cGrayAnE,cx,cy,{c:'#888',w:1},'curve-1500ppm-anodic');
poly(g,cGrayCathLogI,cGrayCathE,cx,cy,{c:'#888',w:1},'curve-1500ppm-cathodic');
poly(g,cBlueAnLogI,cBlueAnE,cx,cy,{c:'#4a5fc0',w:1},'curve-0ppm-anodic');
poly(g,cBlueCathLogI,cBlueCathE,cx,cy,{c:'#4a5fc0',w:1},'curve-0ppm-cathodic');
poly(g,cRedAnLogI,cRedAnE,cx,cy,{c:'#e8333b',w:1},'curve-500ppm-anodic');
poly(g,cRedCathLogI,cRedCathE,cx,cy,{c:'#e8333b',w:1},'curve-500ppm-cathodic');
T(g,268,1164,[['0.31(\u00b10.5) \u00b5A cm'],['-2','sup']],{fs:15,c:'#e8333b'},'icorr-label-500ppm');
T(g,216,1178,'-655 mV',{fs:12,c:'#e8333b'},'ecorr-label-500ppm');
T(g,235,1202,[['0.55(\u00b10.2)\u00b5A cm'],['-2','sup']],{fs:15,c:'#999'},'icorr-label-1500ppm');
T(g,258,1220,'-687 mV',{fs:12,c:'#888'},'ecorr-label-1500ppm');
T(g,163,1228,'-709 mV',{fs:12,c:'#3a4fa8'},'ecorr-label-0ppm');
T(g,178,1249,[['0.98 (\u00b10.4) \u00b5A cm'],['-2','sup']],{fs:15,c:'#3a4fa8'},'icorr-label-0ppm');
const lg=el('g',{},g);
line(lg,168,1368,202,1368,{c:'#b8c0e0',w:1.2},'legend-line-0ppm');line(lg,168,1388,202,1388,{c:'#e8333b',w:1},'legend-line-500ppm');line(lg,168,1408,202,1408,{c:'#666',w:1},'legend-line-1500ppm');
T(lg,209,1373,'SAE 1020     0ppm',{fs:15,c:'#3a4fa8'},'legend-entry-0ppm');
T(lg,209,1393,'SAE 1020   500ppm',{fs:15,c:'#e8333b'},'legend-entry-500ppm');
T(lg,209,1413,'SAE 1020 1500ppm',{fs:15,c:'#999'},'legend-entry-1500ppm');
})();
panelLabel(32,1291,'(c)','panel-label-c');

// ================= Panel (f) =================
(function(){
const g=grp('panel-f-tafel-al');
const X0=937,X1=1465,Y0=1070,Y1=1460;
const fx=e=>X0+(e+9)*(X1-X0)/7;
const fy=E=>1070-(E+0.6)*930;
nm(el('rect',{x:X0,y:Y0,width:X1-X0,height:Y1-Y0,fill:'none',stroke:'#000','stroke-width':1.1},g),'plot-frame');
fXTicks.forEach(e=>{const x=fx(e);line(g,x,Y1,x,Y1+6,{},'x-tick');T(g,x,Y1+30,pw(e),{fs:16,a:'middle'},'x-tick-label');});
logMinorX(g,fx,-9,-2,Y1,4);
fYTicks.forEach(E=>{const y=fy(E);line(g,X0,y,X0-6,y,{},'y-tick');T(g,X0-12,y+6,E.toFixed(1),{fs:17,a:'end'},'y-tick-label');});
[-0.65,-0.75,-0.85,-0.95].forEach(E=>line(g,X0,fy(E),X0-3,fy(E),{},'y-minor-tick'));
T(g,878,1265,'Potential vs. SCE ( E ) / V',{fs:17,a:'middle',rot:-90},'y-axis-title');
T(g,1200,1532,[['Current density ( i ) / A cm'],['-2','sup']],{fs:17,a:'middle'},'x-axis-title');
T(g,948,1093,'0.5 M NaCl',{fs:17},'electrolyte-label');
const cols=['url(#hatchBlack)','url(#hatchBlue)'];
fIcorrLogI.forEach((li,i)=>{const x=fx(li);const r=el('rect',{x:x-4.5,y:fy(fEcorr[i]),width:9,height:1458-fy(fEcorr[i]),fill:cols[i]},g);

});
poly(g,fBlackAnLogI,fBlackAnE,fx,fy,{c:'#111',w:1},'curve-al-1500ppm-anodic');
poly(g,fBlackCathLogI,fBlackCathE,fx,fy,{c:'#111',w:1},'curve-al-1500ppm-cathodic');
poly(g,fBlueAnLogI,fBlueAnE,fx,fy,{c:'#4a5fc0',w:1},'curve-al-puro-anodic');
poly(g,fBlueCathLogI,fBlueCathE,fx,fy,{c:'#4a5fc0',w:1},'curve-al-puro-cathodic');
line(g,fx(-7.06),fy(-0.7415),fx(-3.39),fy(-0.694),{c:'#e8333b',w:2,d:'6,4'},'tafel-fit-anodic');
line(g,fx(-7.39),fy(-0.747),fx(-6.06),fy(-0.754),{c:'#e8333b',w:2,d:'6,4'},'tafel-fit-anodic-2');
line(g,fx(-6.01),fy(-0.764),fx(-5.56),fy(-0.932),{c:'#3a4fa8',d:'2,2'},'tafel-fit-cathodic');
T(g,972,1185,'-731 mV',{fs:12,c:'#3a4fa8'},'ecorr-label-al-puro');
T(g,950,1216,'-742 mV',{fs:12},'ecorr-label-al-1500ppm');
T(g,1075,1163,[['1.12 (\u00b10.25) \u00b5A cm'],['-2','sup']],{fs:16,c:'#3a4fa8'},'icorr-label-al-puro');
T(g,965,1251,[['0.12 (\u00b10.05) \u00b5A cm'],['-2','sup']],{fs:16},'icorr-label-al-1500ppm');
const lg=el('g',{},g);
line(lg,1320,1341,1355,1341,{c:'#4a5fc0',w:1},'legend-line-al-puro');line(lg,1320,1362,1355,1362,{c:'#999',w:1.2},'legend-line-al-1500ppm');
T(lg,1361,1346,'Al puro #1',{fs:15},'legend-entry-al-puro');
T(lg,1361,1367,'Al 1500 ppm',{fs:15},'legend-entry-al-1500ppm');
})();
panelLabel(1537,1305,'(f)','panel-label-f');
</script>
</body></html>
